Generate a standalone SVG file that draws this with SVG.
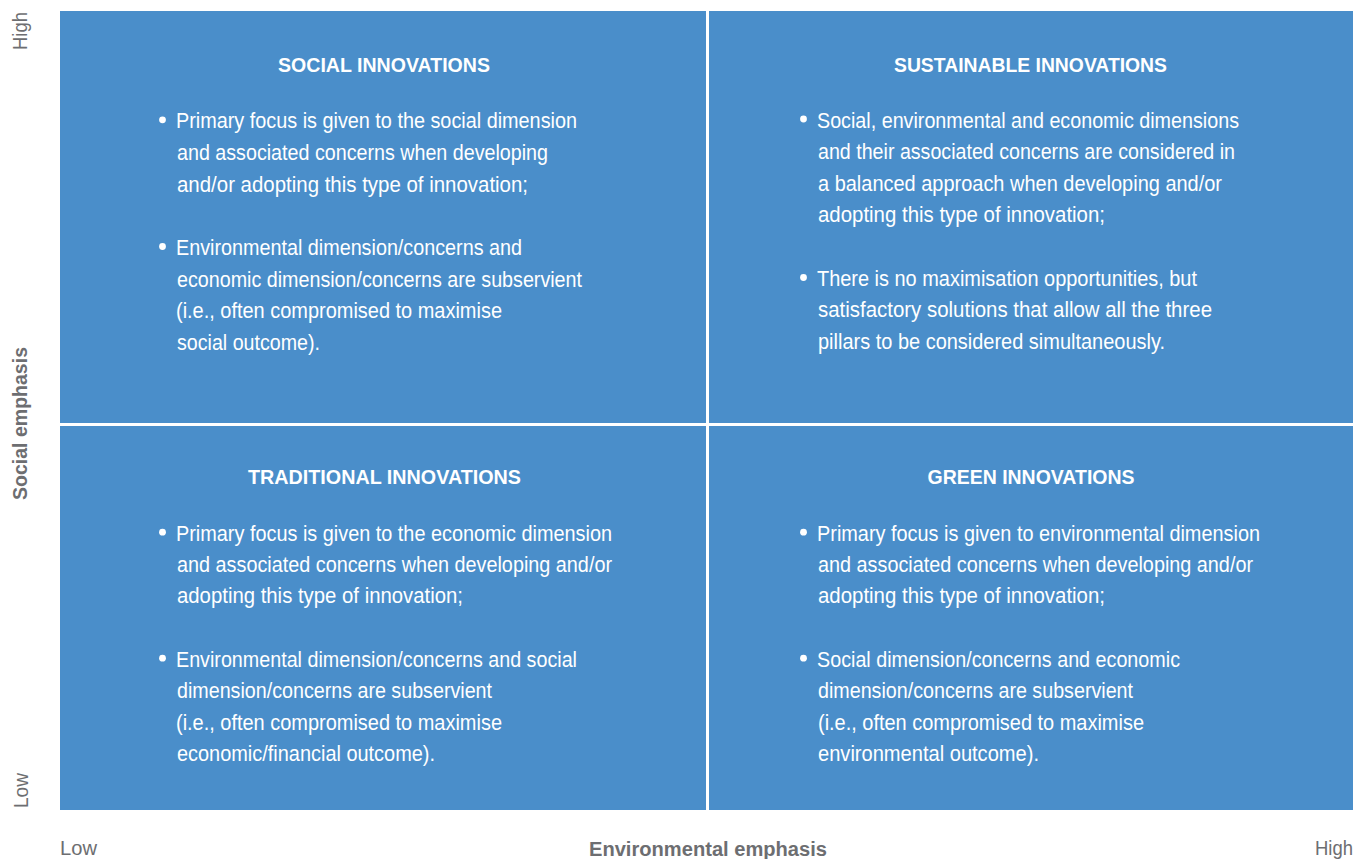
<svg xmlns="http://www.w3.org/2000/svg" width="1361" height="859" viewBox="0 0 1361 859">
<style>
.q{fill:#4a8eca}
.t{font-family:"Liberation Sans",Arial,sans-serif;font-weight:bold;font-size:21px;fill:#fff}
.b{font-family:"Liberation Sans",Arial,sans-serif;font-size:22px;fill:#fff}
.ax{font-family:"Liberation Sans",Arial,sans-serif;font-size:21px;fill:#6d6e71}
.axb{font-family:"Liberation Sans",Arial,sans-serif;font-size:20px;font-weight:bold;fill:#6d6e71}
.d{fill:#fff}
</style>
<rect width="1361" height="859" fill="#fff"/>
<g id="social-innovations">
<rect class="q" x="60" y="11" width="646" height="412"/>
<text class="t" x="278" y="72" textLength="212" lengthAdjust="spacingAndGlyphs">SOCIAL INNOVATIONS</text>
<circle class="d" cx="162.5" cy="119.8" r="3.4"/>
<text class="b" x="176" y="128.3" textLength="401" lengthAdjust="spacingAndGlyphs">Primary focus is given to the social dimension</text>
<text class="b" x="177" y="160" textLength="371" lengthAdjust="spacingAndGlyphs">and associated concerns when developing</text>
<text class="b" x="177" y="191.7" textLength="351" lengthAdjust="spacingAndGlyphs">and/or adopting this type of innovation;</text>
<circle class="d" cx="162.5" cy="246.5" r="3.4"/>
<text class="b" x="176" y="255" textLength="346" lengthAdjust="spacingAndGlyphs">Environmental dimension/concerns and</text>
<text class="b" x="177" y="286.5" textLength="405" lengthAdjust="spacingAndGlyphs">economic dimension/concerns are subservient</text>
<text class="b" x="176" y="318" textLength="326" lengthAdjust="spacingAndGlyphs">(i.e., often compromised to maximise</text>
<text class="b" x="177" y="349.5" textLength="143" lengthAdjust="spacingAndGlyphs">social outcome).</text>
</g>
<g id="sustainable-innovations">
<rect class="q" x="709" y="11" width="644" height="412"/>
<text class="t" x="894" y="72" textLength="273" lengthAdjust="spacingAndGlyphs">SUSTAINABLE INNOVATIONS</text>
<circle class="d" cx="803.5" cy="119" r="3.4"/>
<text class="b" x="817" y="127.5" textLength="422" lengthAdjust="spacingAndGlyphs">Social, environmental and economic dimensions</text>
<text class="b" x="818" y="159" textLength="417" lengthAdjust="spacingAndGlyphs">and their associated concerns are considered in</text>
<text class="b" x="818" y="190.5" textLength="404" lengthAdjust="spacingAndGlyphs">a balanced approach when developing and/or</text>
<text class="b" x="818" y="222" textLength="287" lengthAdjust="spacingAndGlyphs">adopting this type of innovation;</text>
<circle class="d" cx="803.5" cy="277.5" r="3.4"/>
<text class="b" x="817" y="286" textLength="380" lengthAdjust="spacingAndGlyphs">There is no maximisation opportunities, but</text>
<text class="b" x="818" y="317" textLength="394" lengthAdjust="spacingAndGlyphs">satisfactory solutions that allow all the three</text>
<text class="b" x="818" y="348.5" textLength="347" lengthAdjust="spacingAndGlyphs">pillars to be considered simultaneously.</text>
</g>
<g id="traditional-innovations">
<rect class="q" x="60" y="426" width="646" height="384"/>
<text class="t" x="248" y="484" textLength="273" lengthAdjust="spacingAndGlyphs">TRADITIONAL INNOVATIONS</text>
<circle class="d" cx="162.5" cy="532.2" r="3.4"/>
<text class="b" x="176" y="540.7" textLength="436" lengthAdjust="spacingAndGlyphs">Primary focus is given to the economic dimension</text>
<text class="b" x="177" y="571.9" textLength="435" lengthAdjust="spacingAndGlyphs">and associated concerns when developing and/or</text>
<text class="b" x="177" y="603.3" textLength="286" lengthAdjust="spacingAndGlyphs">adopting this type of innovation;</text>
<circle class="d" cx="162.5" cy="658.2" r="3.4"/>
<text class="b" x="176" y="666.7" textLength="401" lengthAdjust="spacingAndGlyphs">Environmental dimension/concerns and social</text>
<text class="b" x="177" y="698" textLength="315" lengthAdjust="spacingAndGlyphs">dimension/concerns are subservient</text>
<text class="b" x="176" y="729.5" textLength="326" lengthAdjust="spacingAndGlyphs">(i.e., often compromised to maximise</text>
<text class="b" x="177" y="760.8" textLength="258" lengthAdjust="spacingAndGlyphs">economic/financial outcome).</text>
</g>
<g id="green-innovations">
<rect class="q" x="709" y="426" width="644" height="384"/>
<text class="t" x="927.5" y="484" textLength="207" lengthAdjust="spacingAndGlyphs">GREEN INNOVATIONS</text>
<circle class="d" cx="803.5" cy="532.2" r="3.4"/>
<text class="b" x="817" y="540.7" textLength="443" lengthAdjust="spacingAndGlyphs">Primary focus is given to environmental dimension</text>
<text class="b" x="818" y="571.9" textLength="435" lengthAdjust="spacingAndGlyphs">and associated concerns when developing and/or</text>
<text class="b" x="818" y="603.3" textLength="287" lengthAdjust="spacingAndGlyphs">adopting this type of innovation;</text>
<circle class="d" cx="803.5" cy="658.2" r="3.4"/>
<text class="b" x="817" y="666.7" textLength="363" lengthAdjust="spacingAndGlyphs">Social dimension/concerns and economic</text>
<text class="b" x="818" y="698" textLength="315" lengthAdjust="spacingAndGlyphs">dimension/concerns are subservient</text>
<text class="b" x="818" y="729.5" textLength="326" lengthAdjust="spacingAndGlyphs">(i.e., often compromised to maximise</text>
<text class="b" x="818" y="760.8" textLength="221" lengthAdjust="spacingAndGlyphs">environmental outcome).</text>
</g>
<g id="axes">
<text class="ax" transform="translate(27,50) rotate(-90)" textLength="38" lengthAdjust="spacingAndGlyphs">High</text>
<text class="axb" transform="translate(27,500) rotate(-90)" textLength="153" lengthAdjust="spacingAndGlyphs">Social emphasis</text>
<text class="ax" transform="translate(28,808) rotate(-90)" textLength="35" lengthAdjust="spacingAndGlyphs">Low</text>
<text class="ax" x="60" y="855" textLength="37" lengthAdjust="spacingAndGlyphs">Low</text>
<text class="axb" x="589" y="855.5" textLength="238" lengthAdjust="spacingAndGlyphs">Environmental emphasis</text>
<text class="ax" x="1315" y="855" textLength="38" lengthAdjust="spacingAndGlyphs">High</text>
</g>
</svg>
